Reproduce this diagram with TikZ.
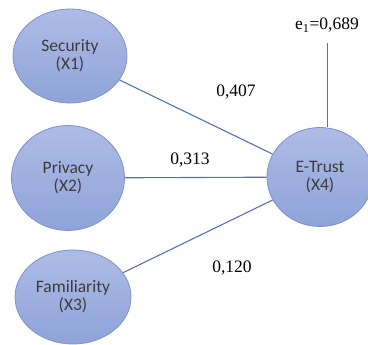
\documentclass[tikz,border=0pt]{standalone}
\usepackage{fontspec}
\setmainfont{Liberation Serif}
\newfontfamily\calib{Carlito}
\usetikzlibrary{shapes.geometric}

\definecolor{elltop}{HTML}{AEBCE5}
\definecolor{ellbot}{HTML}{8FA3D9}
\definecolor{elldraw}{HTML}{7D92CB}
\definecolor{pathcol}{HTML}{5272B4}
\definecolor{labelgray}{HTML}{3C3C3C}

\begin{document}
\begin{tikzpicture}[x=1pt,y=-1pt]
    \tikzset{
        latent/.style={
            ellipse, draw=elldraw, line width=0.8pt,
            top color=elltop, bottom color=ellbot,
            minimum width=114pt, minimum height=94pt, inner sep=0pt,
            align=center, text=labelgray, font=\calib\fontsize{17.5}{18}\selectfont,
        },
        coef/.style={font=\fontsize{17.5}{19}\selectfont},
        pathline/.style={draw=pathcol, line width=1.1pt},
    }
    \useasboundingbox (0,0) rectangle (368,345);

    % Variables
    \node[latent] (sec) at (70,56) {Security\\(X1)};
    \node[latent, minimum width=113pt, minimum height=105pt] (pri) at (68,178) {Privacy\\(X2)};
    \node[latent, minimum width=116pt] (fam) at (73,297) {Familiarity\\(X3)};
    \node[latent, minimum width=106pt, minimum height=99pt] (et) at (320,177) {E-Trust\\(X4)};

    % Coefficients
    \node[coef] (c1) at (236,92) {0,407};
    \node[coef] (c2) at (190,160) {0,313};
    \node[coef] (c3) at (232,268) {0,120};
    \node[coef] (err) at (327,25) {e\textsubscript{1}=0,689};
    \coordinate (etop) at (327,43);

    % Paths
    \path[pathline] (sec) -- (et);
    \path[pathline] (pri) -- (et);
    \path[pathline] (fam) -- (et);
    \path[pathline, line width=0.9pt] (etop) -- (et.north -| etop);
\end{tikzpicture}
\end{document}
